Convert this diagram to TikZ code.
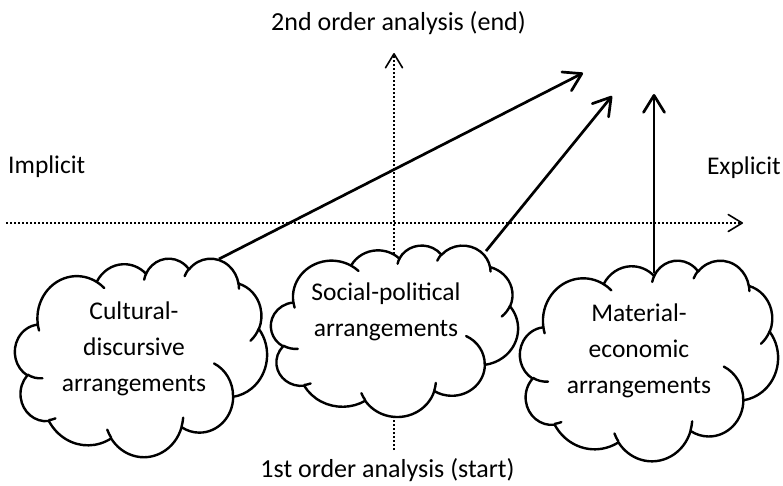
\documentclass[tikz,border=0pt]{standalone}
\usepackage{fontspec}
\setmainfont{Carlito}
\usetikzlibrary{arrows.meta}

% Office "cloud" preset geometry, converted to TikZ elliptical arcs
\newcommand\mkarc[5]{% name, wR, hR, start angle (visual, deg), sweep (deg)
  \pgfmathsetmacro\tmpa{atan2(#2*sin(#4),#3*cos(#4))}%
  \pgfmathsetmacro\tmpb{atan2(#2*sin(#4+#5),#3*cos(#4+#5))}%
  \pgfmathsetmacro\tmpd{\tmpb-\tmpa}%
  \pgfmathsetmacro\tmpd{\tmpd-360*round((\tmpd-(#5))/360)}%
  \pgfmathsetmacro\tmprx{#2/432}%
  \pgfmathsetmacro\tmpry{#3/432}%
  \expandafter\xdef\csname #1\endcsname{arc[start angle=\tmpa,delta angle=\tmpd,x radius=\tmprx,y radius=\tmpry]}%
}
\mkarc{cldA}{6753}{9190}{-190.4875}{123.7805}
\mkarc{cldB}{5333}{7267}{-144.1024}{89.9452}
\mkarc{cldC}{4365}{5945}{-145.8079}{99.7230}
\mkarc{cldD}{4857}{6595}{-130.9861}{117.2417}
\mkarc{cldE}{5333}{7273}{-78.7089}{109.0269}
\mkarc{cldF}{6775}{9220}{-46.2673}{130.2690}
\mkarc{cldG}{5785}{7867}{0.6250}{114.0333}
\mkarc{cldH}{6752}{9215}{22.4516}{115.1726}
\mkarc{cldI}{7720}{10543}{66.2426}{75.7110}
\mkarc{cldJ}{4360}{5918}{-274.9421}{146.7356}
\mkarc{cldK}{4345}{5945}{-246.8285}{152.5189}
\mkarc{cliA}{4345}{5945}{86.7420}{26.4295}
\mkarc{cliB}{4360}{5918}{73.6105}{11.4475}
\mkarc{cliC}{6752}{9215}{137.6242}{14.0811}
\mkarc{cliD}{6752}{9215}{6.4533}{15.9984}
\mkarc{cliE}{5785}{7867}{-70.2924}{70.9174}
\mkarc{cliF}{5333}{7273}{30.3180}{27.7515}
\mkarc{cliG}{4857}{6595}{-13.7443}{14.8589}
\mkarc{cliH}{4857}{6595}{-149.1815}{18.1954}
\mkarc{cliI}{4365}{5945}{-163.4943}{17.6864}
\mkarc{cliJ}{6753}{9190}{-66.7070}{12.3194}
\mkarc{cliK}{6753}{9190}{157.6544}{11.8582}

\newcommand\drawofficecloud[4]{% x, y, w, h of frame (pixels)
  \pgfmathsetmacro\cw{#3/100}\pgfmathsetmacro\ch{#4/100}%
  \begin{scope}[shift={(#1,#2)}, x=\cw pt, y=-\ch pt]
    \path[cloudline, draw, fill=white] (9.028,33.264) \cldA\cldB\cldC\cldD\cldE\cldF\cldG\cldH\cldI\cldJ\cldK -- cycle;
    \path[cloudline, draw] (10.863,60.595) \cliA (16.037,80.785) \cliB
      (38.144,90.486) \cliC (66.729,80.442) \cliD (79.002,53.134) \cliE
      (96.755,35.542) \cliF (88.713,12.560) \cliG (67.310,9.148) \cliH
      (51.252,10.926) \cliI (32.407,12.019) \cliJ (9.553,36.549) \cliK;
  \end{scope}}

\begin{document}
\begin{tikzpicture}[x=1pt,y=-1pt,
  lbl/.style={font=\fontsize{26}{32}\selectfont, inner sep=0pt, text=black},
  sidelbl/.style={font=\fontsize{25.5}{32}\selectfont, inner sep=0pt, text=black},
  cloudtext/.style={font=\fontsize{25.5}{36}\selectfont, align=center, inner sep=0pt, text=black},
  axisline/.style={line width=1.8pt, dash pattern=on 1.8pt off 2.2pt,
    -{Straight Barb[length=14pt,width=17pt,line width=1.6pt,round]}},
  link/.style={line width=2.7pt, -{Straight Barb[length=17pt,width=21pt,round]}},
  cloudline/.style={line width=2.4pt, line join=round, line cap=round}]
\useasboundingbox (0,0) rectangle (783,485);
\fill[white] (0,0) rectangle (783,485);

% axes
\coordinate (hstart) at (6,223);
\coordinate (hend) at (743,223);
\coordinate (vstart) at (394,450);
\coordinate (vend) at (394,53);
\draw[axisline] (hstart) -- (hend);
\draw[axisline] (vstart) -- (vend);

% clouds
\drawofficecloud{15}{258}{252}{198.5}
\drawofficecloud{271}{245}{247}{171.4}
\drawofficecloud{520}{260}{258}{200.6}

\node[cloudtext] (cult) at (134,349) {Cultural-\\discursive\\arrangements};
\node[cloudtext] (soc) at (386,312) {Social-political\\arrangements};
\node[cloudtext] (mat) at (639,351) {Material-\\economic\\arrangements};

% labels
\node[lbl, anchor=base] (top) at (398.5,30) {2nd order analysis (end)};
\node[lbl, anchor=base] (bot) at (387.5,477) {1st order analysis (start)};
\node[sidelbl, anchor=base west] (impl) at (8,173) {Implicit};
\node[sidelbl, anchor=base east] (expl) at (781,174) {Explicit};

% arrows
\coordinate (a1s) at (219,259);
\coordinate (a1e) at (583,73);
\coordinate (a2s) at (486,251);
\coordinate (a2e) at (612,96);
\coordinate (a3s) at (654,273);
\coordinate (a3e) at (654,94);
\draw[link] (a1s) -- (a1e);
\draw[link] (a2s) -- (a2e);
\draw[link] (a3s) -- (a3e);
\end{tikzpicture}
\end{document}
